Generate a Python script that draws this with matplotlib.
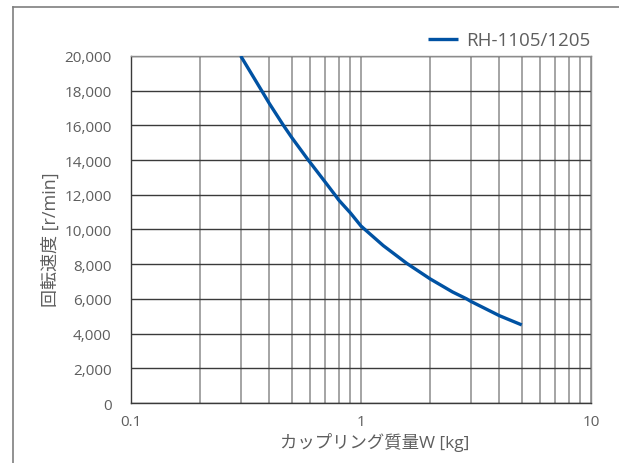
import matplotlib
matplotlib.use("Agg")

import matplotlib.pyplot as plt
from matplotlib.lines import Line2D
from matplotlib.ticker import FixedLocator, FuncFormatter, NullFormatter

plt.rcParams["font.family"] = ["Open Sans", "Noto Sans CJK JP", "DejaVu Sans"]

# -----------------------------
# DATA
# -----------------------------
mass_kg = [0.30, 0.37, 0.40, 0.46, 0.50, 0.59, 0.70, 0.77, 0.80, 0.90, 1.00,
           1.04, 1.25, 1.58, 2.00, 2.50, 2.88, 3.00, 4.00, 5.00]
speed_rpm = [20000, 18000, 17250, 16000, 15300, 14000, 12720, 12000, 11700, 10950, 10200,
             10000, 9070, 8050, 7150, 6400, 6000, 5860, 5030, 4500]
series_label = "RH-1105/1205"

x_label = "カップリング質量W [kg]"
y_label = "回転速度 [r/min]"
y_ticks = list(range(0, 20001, 2000))
x_ticks = [0.1, 1, 10]

TEXT = "#5e5e5e"
LINE = "#0052a3"
GRID_V = "#8c8c8c"
GRID_H = "#3a3a3a"
BORDER = "#7f7f7f"

fig = plt.figure(figsize=(6.19, 4.64), dpi=100, facecolor="white")
ax = fig.add_axes([0.2116, 0.1293, 0.7432, 0.7479])

ax.plot(mass_kg, speed_rpm, color=LINE, linewidth=2.4, label=series_label,
        solid_capstyle="butt", solid_joinstyle="round", zorder=3)

ax.set_xscale("log")
ax.set_xlim(0.1, 10)
ax.set_ylim(0, 20000)

ax.xaxis.set_major_locator(FixedLocator(x_ticks))
ax.xaxis.set_major_formatter(FuncFormatter(lambda v, p: f"{v:g}"))
minor = [m * d for d in (0.1, 1) for m in range(2, 10)]
ax.xaxis.set_minor_locator(FixedLocator(minor))
ax.xaxis.set_minor_formatter(NullFormatter())
ax.set_yticks(y_ticks)
ax.yaxis.set_major_formatter(FuncFormatter(lambda v, p: f"{int(v):,}"))

ax.grid(True, axis="x", which="both", color=GRID_V, linewidth=1.1)
ax.grid(True, axis="y", which="major", color=GRID_H, linewidth=1.0)
ax.set_axisbelow(True)

ax.tick_params(which="both", length=0, labelsize=11, labelcolor=TEXT)
ax.tick_params(axis="x", pad=8)
ax.tick_params(axis="y", pad=14)

for side, spine in ax.spines.items():
    spine.set_linewidth(1.0)
    spine.set_color(GRID_H if side in ("bottom", "left") else GRID_V)

ax.set_xlabel(x_label, fontsize=12.5, color=TEXT)
ax.set_ylabel(y_label, fontsize=13, color=TEXT)
ax.xaxis.set_label_coords(0.529, -0.083)
ax.yaxis.set_label_coords(-0.154, 0.473)

leg = ax.legend(loc="lower right", bbox_to_anchor=(1.015, 0.998), frameon=False,
                fontsize=13.5, handlelength=1.6, handletextpad=0.45, borderaxespad=0)
for t in leg.get_texts():
    t.set_color(TEXT)

# outer frame (top and left edges only, as in the source image)
fig.add_artist(Line2D([13 / 619, 13 / 619], [0, 1 - 8 / 464], color=BORDER,
                      linewidth=1.2, transform=fig.transFigure))
fig.add_artist(Line2D([13 / 619, 1], [1 - 8 / 464, 1 - 8 / 464], color=BORDER,
                      linewidth=1.2, transform=fig.transFigure))

fig.savefig("out.png", dpi=100, facecolor="white")
